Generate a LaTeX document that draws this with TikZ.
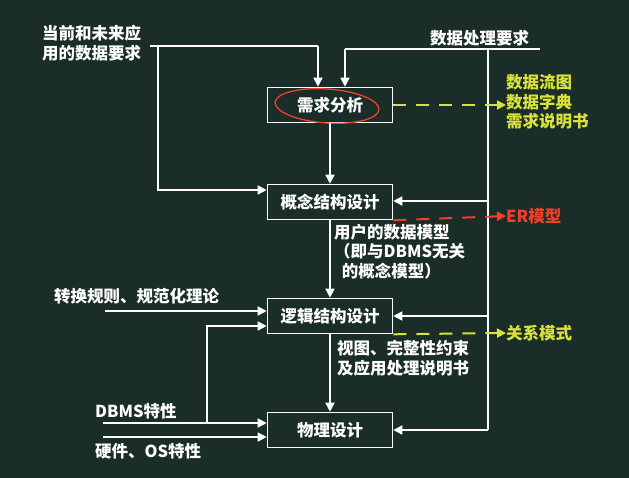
\documentclass[tikz,border=0pt]{standalone}
\usepackage{fontspec}
\setmainfont{Noto Sans CJK SC}
\usetikzlibrary{arrows.meta}
\definecolor{bg}{HTML}{1A2D28}
\definecolor{ylw}{HTML}{D8E23A}
\definecolor{rd}{HTML}{F0402A}
\begin{document}
\begin{tikzpicture}[x=1pt,y=-1pt,
  every node/.style={font=\fontsize{16.5}{19.5}\selectfont\bfseries, text=white},
  box/.style={draw=white, line width=1.6pt, minimum width=125pt, minimum height=35pt, inner sep=0pt},
  ln/.style={draw=white, line width=1.6pt},
  ar/.style={ln, -{Triangle[length=9pt,width=9pt]}},
  dy/.style={draw=ylw, line width=2pt, dash pattern=on 13pt off 10pt, -{Triangle[length=9pt,width=9pt]}},
  dr/.style={draw=rd, line width=2pt, dash pattern=on 13pt off 10pt, -{Triangle[length=9pt,width=9pt]}},
  lbl/.style={align=left, inner sep=0pt}]
\fill[bg] (0,0) rectangle (629,478);
\useasboundingbox (0,0) rectangle (629,478);
\node[box] (xq) at (330,105) {需求分析};
\node[box] (gn) at (330,202) {概念结构设计};
\node[box] (lj) at (330,316) {逻辑结构设计};
\node[box] (wl) at (330,430) {物理设计};
\draw[rd, line width=1.3pt, rotate around={-4:(327,106)}] (327,106) ellipse (52pt and 17pt);
% inputs top
\node[lbl, anchor=north west] (cur) at (42,25) {当前和未来应\\用的数据要求};
\node[lbl, anchor=south west] (proc) at (430,46) {数据处理要求};
\coordinate (c1) at (150,46);
\coordinate (c2) at (318,46);
\coordinate (c3) at (158,46);
\coordinate (c4) at (158,190);
\draw[ln] (c1) -- (c2);
\draw[ar] (c2) -- (c2 |- xq.north);
\draw[ar] (c3) -- (c4) -- (c4 -| gn.west);
\coordinate (p1) at (540,49);
\coordinate (p2) at (345,49);
\coordinate (r1) at (488,49);
\coordinate (r2) at (488,430);
\draw[ln] (p1) -- (p2);
\draw[ar] (p2) -- (p2 |- xq.north);
\draw[ln] (r1) -- (r2);
\draw[ar] (488,201) -- (gn.east |- 0,201);
\draw[ar] (488,316) -- (lj.east |- 0,316);
\draw[ar] (r2) -- (wl.east |- r2);
% vertical flow
\draw[ar] (xq) -- (gn);
\draw[ar] (gn) -- (lj);
\draw[ar] (lj) -- (wl);
\node[lbl, anchor=north west] (um) at (334,224) {用户的数据模型\\（即与DBMS无关\\\ \ 的概念模型）};
\node[lbl, anchor=north west] (vw) at (337,340) {视图、完整性约束\\及应用处理说明书};
% outputs
\node[lbl, text=ylw, anchor=west, align=left] (o1) at (506,102) {数据流图\\数据字典\\需求说明书};
\node[lbl, text=rd, anchor=west] (o2) at (506,216) {ER模型};
\node[lbl, text=ylw, anchor=west] (o3) at (506,333) {关系模式};
\draw[dy] (xq.east) -- (o1.west |- xq.east);
\draw[dr] (gn.south east) -- (o2.west);
\draw[dy] (lj.south east) -- (o3.west);
% left inputs
\node[lbl, anchor=south west] (tr) at (54,304) {转换规则、规范化理论};
\node[lbl, anchor=south west] (db) at (95,419) {DBMS特性};
\node[lbl, anchor=north west] (hw) at (95,443) {硬件、OS特性};
\coordinate (t1) at (105,311);
\draw[ar] (t1) -- (t1 -| lj.west);
\coordinate (d1) at (103,423);
\coordinate (d2) at (207,423);
\coordinate (d3) at (207,326);
\draw[ar] (d1) -- (d1 -| wl.west);
\draw[ar] (d2) -- (d3) -- (d3 -| lj.west);
\coordinate (h1) at (103,437);
\draw[ar] (h1) -- (h1 -| wl.west);
\end{tikzpicture}
\end{document}
